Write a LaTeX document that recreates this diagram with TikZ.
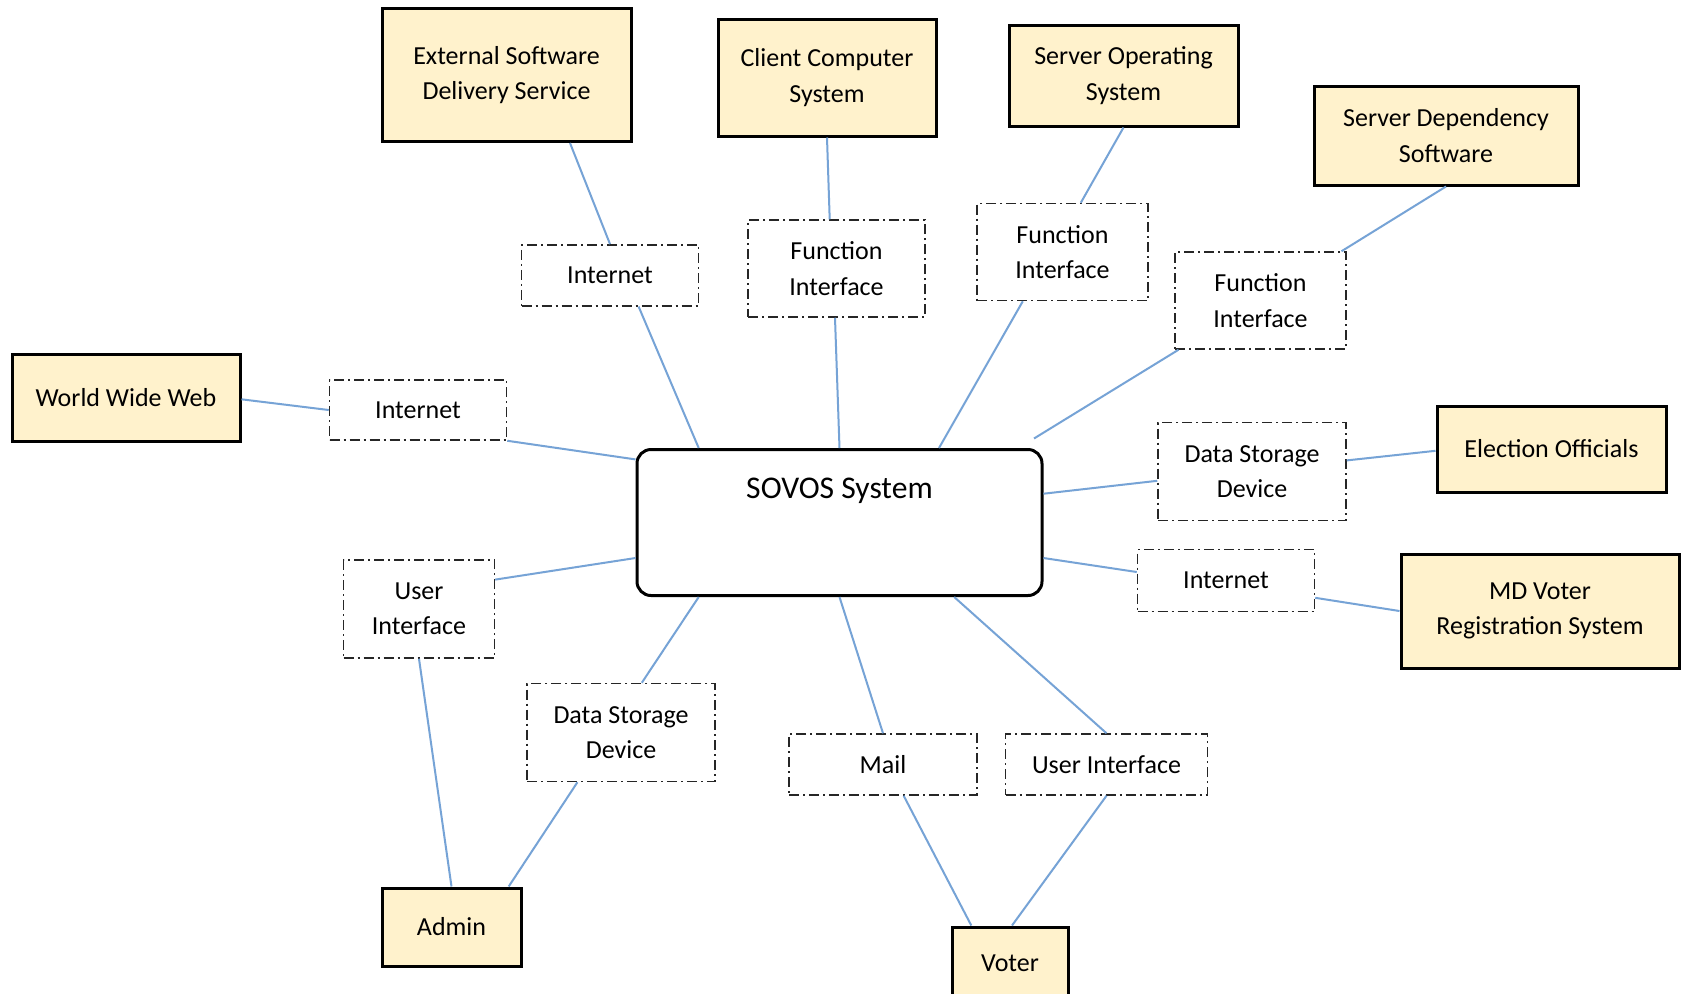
\documentclass[tikz,border=0pt]{standalone}
\usepackage{fontspec}
\setmainfont{Carlito}
\definecolor{extfill}{RGB}{255,242,204}
\definecolor{linkblue}{RGB}{118,163,214}
\begin{document}
\begin{tikzpicture}[x=0.5pt,y=-0.5pt,
  ext/.style={draw=black, line width=1.5pt, fill=extfill, align=center, inner sep=0pt, font=\fontsize{13}{17.7}\selectfont},
  iface/.style={draw=black!85, line width=0.75pt, dash pattern=on 5pt off 2pt on 1pt off 2pt, align=center, inner sep=0pt, font=\fontsize{13}{17.7}\selectfont},
  link/.style={draw=linkblue, line width=1pt},
  sz/.style 2 args={minimum width=#1*0.5pt, minimum height=#2*0.5pt}]
\useasboundingbox[fill=white] (0,0) rectangle (1683,993);
% external entities
\node[ext, sz={249}{133}] (esds) at (506.5,75) {External Software\\Delivery Service};
\node[ext, sz={218}{117}] (ccs) at (827,77.5) {Client Computer\\System};
\node[ext, sz={229}{101}] (sos) at (1123.5,75.5) {Server Operating\\System};
\node[ext, sz={264}{99}] (sds) at (1446,135.5) {Server Dependency\\Software};
\node[ext, sz={228}{87}] (www) at (126,397.5) {World Wide Web};
\node[ext, sz={229}{86}] (eo) at (1551.5,449) {Election Officials};
\node[ext, sz={278}{114}] (md) at (1540,611) {MD Voter\\Registration System};
\node[ext, sz={139}{78}] (admin) at (451.5,927) {Admin};
\node[ext, sz={116}{72}] (voter) at (1010,963) {Voter};
% system
\node[draw=black, line width=1.5pt, rounded corners=7pt, sz={405}{146},
  label={[anchor=base, yshift=-25pt, font=\fontsize{15.8}{19}\selectfont]north:SOVOS System}] (sovos) at (839.5,522.5) {};
% interfaces
\node[iface, sz={177}{61}] (inet1) at (610,275.3) {Internet};
\node[iface, sz={177}{97}] (fi1) at (836.5,268.5) {Function\\Interface};
\node[iface, sz={171}{97}] (fi2) at (1062.5,252) {Function\\Interface};
\node[iface, sz={171}{97}] (fi3) at (1260.5,300.5) {Function\\Interface};
\node[iface, sz={177}{60}] (inet2) at (418,410) {Internet};
\node[iface, sz={188}{98}] (dsd1) at (1252,471.7) {Data Storage\\Device};
\node[iface, sz={177}{62}] (inet3) at (1226,580.7) {Internet};
\node[iface, sz={151}{98}] (ui1) at (419,609) {User\\Interface};
\node[iface, sz={188}{98}] (dsd2) at (621,732.5) {Data Storage\\Device};
\node[iface, sz={188}{61}] (mail) at (883,764.5) {Mail};
\node[iface, sz={202}{61}] (ui2) at (1106.5,764.5) {User Interface};
\coordinate (fi3end) at ([xshift=-4.75pt,yshift=4.75pt]sovos.north east);
% connectors
\draw[link] ([xshift=31.75pt]esds.south) -- (inet1.north);
\draw[link] ([xshift=14.3pt]inet1.south) -- ([xshift=-70.4pt]sovos.north);
\draw[link] (ccs.south) -- ([xshift=-3.4pt]fi1.north);
\draw[link] ([xshift=-0.75pt]fi1.south) -- (sovos.north);
\draw[link] (sos.south) -- ([xshift=9.15pt]fi2.north);
\draw[link] ([xshift=-19.85pt]fi2.south) -- ([xshift=49.75pt]sovos.north);
\draw[link] (sds.south) -- ([xshift=40.5pt]fi3.north);
\draw[link] ([xshift=-41pt]fi3.south) -- (fi3end);
\draw[link] ([yshift=-0.9pt]www.east) -- (inet2.west);
\draw[link] (inet2.south east) -- ([yshift=31.55pt]sovos.west);
\draw[link] ([yshift=14.4pt]sovos.east) -- ([yshift=-4.55pt]dsd1.west);
\draw[link] ([yshift=5.65pt]dsd1.east) -- ([yshift=-0.9pt]eo.west);
\draw[link] ([yshift=-17.75pt]sovos.east) -- ([yshift=4.35pt]inet3.west);
\draw[link] ([yshift=-8.55pt]inet3.east) -- (md.west);
\draw[link] ([yshift=14.7pt]ui1.east) -- ([yshift=-17.75pt]sovos.west);
\draw[link] (ui1.south) -- (admin.north);
\draw[link] ([xshift=-70.4pt]sovos.south) -- ([xshift=10.4pt]dsd2.north);
\draw[link] ([xshift=-21.8pt]dsd2.south) -- ([xshift=28.6pt]admin.north);
\draw[link] (sovos.south) -- (mail.north);
\draw[link] ([xshift=57.35pt]sovos.south) -- (ui2.north);
\draw[link] ([xshift=10.35pt]mail.south) -- ([xshift=-19.35pt]voter.north);
\draw[link] (ui2.south) -- ([xshift=1pt]voter.north);
\end{tikzpicture}
\end{document}
